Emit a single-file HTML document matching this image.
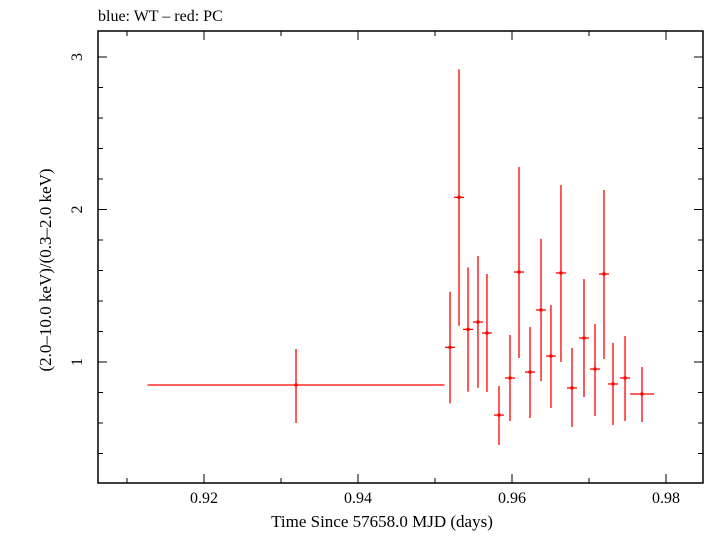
<!DOCTYPE html>
<html><head><meta charset="utf-8"><style>
html,body{margin:0;padding:0;background:#fff;}
svg text{font-family:"Liberation Serif",serif;fill:#000;}
</style></head><body>
<svg id="chart" width="705" height="532" viewBox="0 0 705 532" xmlns="http://www.w3.org/2000/svg">
<text x="98" y="21" font-size="16">blue: WT – red: PC</text>
<rect x="98" y="31" width="605" height="452" fill="none" stroke="#000" stroke-width="1.5"/>
<g id="axes"></g>
<g id="series"></g>
<text x="382" y="527" font-size="17" text-anchor="middle">Time Since 57658.0 MJD (days)</text>
<text transform="translate(51,270) rotate(-90)" font-size="17" text-anchor="middle">(2.0–10.0 keV)/(0.3–2.0 keV)</text>
</svg>
<script>
const times=[0.93195,0.95195,0.95312,0.95429,0.95558,0.95675,0.95831,0.95974,0.96091,0.96234,0.96377,0.96506,0.96636,0.96779,0.96935,0.97078,0.97195,0.97312,0.97468,0.97688];
const timeErr=[0.01929,0.00065,0.00065,0.00065,0.00065,0.00065,0.00065,0.00065,0.00065,0.00065,0.00065,0.00065,0.00065,0.00065,0.00065,0.00065,0.00065,0.00065,0.00065,0.00156];
const ratios=[0.849,1.096,2.080,1.214,1.262,1.190,0.652,0.895,1.590,0.934,1.341,1.039,1.584,0.830,1.157,0.954,1.577,0.856,0.895,0.790];
const ratioHi=[1.085,1.461,2.919,1.621,1.695,1.577,0.843,1.177,2.279,1.230,1.807,1.374,2.161,1.092,1.544,1.249,2.128,1.125,1.170,0.967];
const ratioLo=[0.600,0.729,1.238,0.805,0.831,0.803,0.456,0.613,1.026,0.633,0.875,0.698,1.000,0.574,0.770,0.646,1.020,0.587,0.613,0.607];
const xTickLabels=["0.92","0.94","0.96","0.98"];
const yTickLabels=["1","2","3"];
const NS="http://www.w3.org/2000/svg";
const X=t=>204+(t-0.92)*7700;
const Y=v=>362-(v-1)*152.5;
const L=98,R=703,T=31,B=483;
const axes=document.getElementById('axes'),ser=document.getElementById('series');
function mk(tag,a,p){const e=document.createElementNS(NS,tag);for(const k in a)e.setAttribute(k,a[k]);p.appendChild(e);return e;}
for(let i=0;i<=8;i++){const t=0.91+i*0.01,x=X(t);if(x<L||x>R)continue;const maj=i%2==1;const len=maj?9:5;
 const a=mk('line',{x1:x,x2:x,y1:B,y2:B-len,stroke:'#000','stroke-width':1},axes);
 
 const b=mk('line',{x1:x,x2:x,y1:T,y2:T+len,stroke:'#000','stroke-width':1},axes);
 }
xTickLabels.forEach(s=>{const t=mk('text',{x:X(parseFloat(s)),y:503,'font-size':16,'text-anchor':'middle'},axes);t.textContent=s;
 });
for(let i=0;i<=16;i++){const v=0.2+i*0.2,y=Y(v);if(y<T||y>B)continue;const maj=Math.abs(v-Math.round(v))<1e-6;const len=maj?9:5;
 const a=mk('line',{x1:L,x2:L+len,y1:y,y2:y,stroke:'#000','stroke-width':1},axes);
 
 const b=mk('line',{x1:R,x2:R-len,y1:y,y2:y,stroke:'#000','stroke-width':1},axes);
 }
yTickLabels.forEach(s=>{const y=Y(parseFloat(s));const t=mk('text',{transform:`translate(82,${y}) rotate(-90)`,'font-size':16,'text-anchor':'middle'},axes);t.textContent=s;
 });
times.forEach((t,i)=>{const g=mk('g',{},ser);
 
 mk('line',{x1:X(t-timeErr[i]),x2:X(t+timeErr[i]),y1:Y(ratios[i]),y2:Y(ratios[i]),stroke:'#f00','stroke-width':1.3},g);
 mk('line',{x1:X(t),x2:X(t),y1:Y(ratioHi[i]),y2:Y(ratioLo[i]),stroke:'#f00','stroke-width':1.3},g);
 mk('rect',{x:X(t)-1.5,y:Y(ratios[i])-1.5,width:3,height:3,fill:'#f00'},g);});
</script>
</body></html>
